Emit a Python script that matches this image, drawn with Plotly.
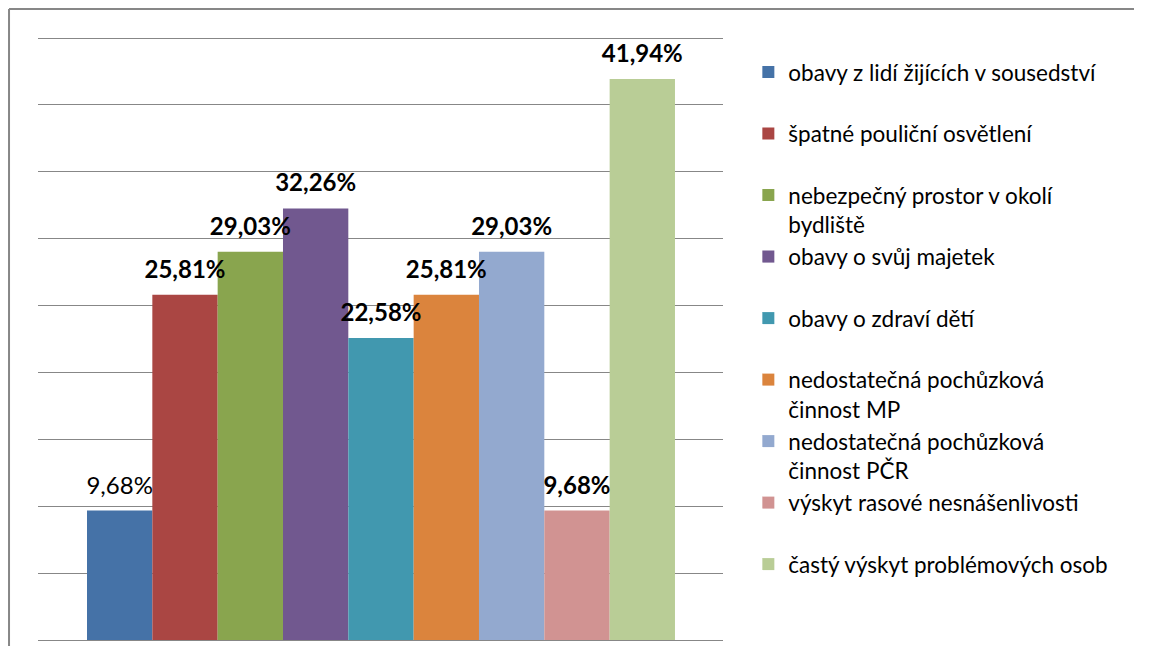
import plotly.graph_objects as go

# data
categories = [
    "obavy z lidí žijících v sousedství",
    "špatné pouliční osvětlení",
    "nebezpečný prostor v okolí<br>bydliště",
    "obavy o svůj majetek",
    "obavy o zdraví dětí",
    "nedostatečná pochůzková<br>činnost MP",
    "nedostatečná pochůzková<br>činnost PČR",
    "výskyt rasové nesnášenlivosti",
    "častý výskyt problémových osob",
]
values = [9.68, 25.81, 29.03, 32.26, 22.58, 25.81, 29.03, 9.68, 41.94]
bold_label = [False, True, True, True, True, True, True, True, True]
colors = ["#4572A7", "#AA4643", "#89A54E", "#71588F", "#4198AF",
          "#DB843D", "#93A9CF", "#D19392", "#B9CD96"]

FONT = "Lato"

fig = go.Figure()

for i, (name, v, c) in enumerate(zip(categories, values, colors)):
    # keep every legend entry two lines tall so the spacing is even
    legend_name = name if "<br>" in name else name + "<br> "
    fig.add_trace(go.Bar(
        x=[i], y=[v], width=1, name=legend_name,
        marker=dict(color=c, line=dict(width=0)),
        legendgroup=str(i), hoverinfo="skip",
    ))

labels = []
for v, b in zip(values, bold_label):
    s = f"{v:.2f}".replace(".", ",") + "%"
    labels.append(f"<b>{s}</b>" if b else s)

fig.add_trace(go.Scatter(
    x=list(range(len(values))), y=values, mode="markers+text",
    text=labels, textposition="top center",
    textfont=dict(family=FONT, size=24, color="black"),
    marker=dict(size=16, opacity=0),
    showlegend=False, hoverinfo="skip", cliponaxis=False,
))

# chart frame: only its left and top edges fall inside the picture
# (kept a little inside the figure so the page does not overflow)
frame = dict(color="#878787", width=2)
fig.add_shape(type="line", xref="paper", yref="paper",
              x0=-0.0423, x1=-0.0423, y0=-0.01, y1=1.043, line=frame)
fig.add_shape(type="line", xref="paper", yref="paper",
              x0=-0.0423, x1=1.60, y0=1.043, y1=1.043, line=frame)

# page body adds 8px around the figure, so the figure is 16px smaller
fig.update_layout(
    width=1133, height=646,
    margin=dict(l=30, r=418, t=27, b=14),
    barmode="overlay",
    plot_bgcolor="white", paper_bgcolor="white",
    font=dict(family=FONT, size=22.5, color="black"),
    showlegend=True,
    legend=dict(
        x=1.037, y=0.9736, xanchor="left", yanchor="top",
        valign="top", tracegroupgap=0,
        font=dict(family=FONT, size=22.5, color="black"),
        bgcolor="rgba(0,0,0,0)",
    ),
    xaxis=dict(range=[-1.25, 9.235], showticklabels=False, showgrid=False,
               zeroline=False, ticks=""),
    # a little headroom above 45 so the top gridline is drawn
    yaxis=dict(range=[0, 45.224], dtick=5, showticklabels=False, ticks="",
               showgrid=True, gridcolor="#878787", gridwidth=1,
               zeroline=True, zerolinecolor="#878787", zerolinewidth=1),
)

fig.write_html("out.html")
